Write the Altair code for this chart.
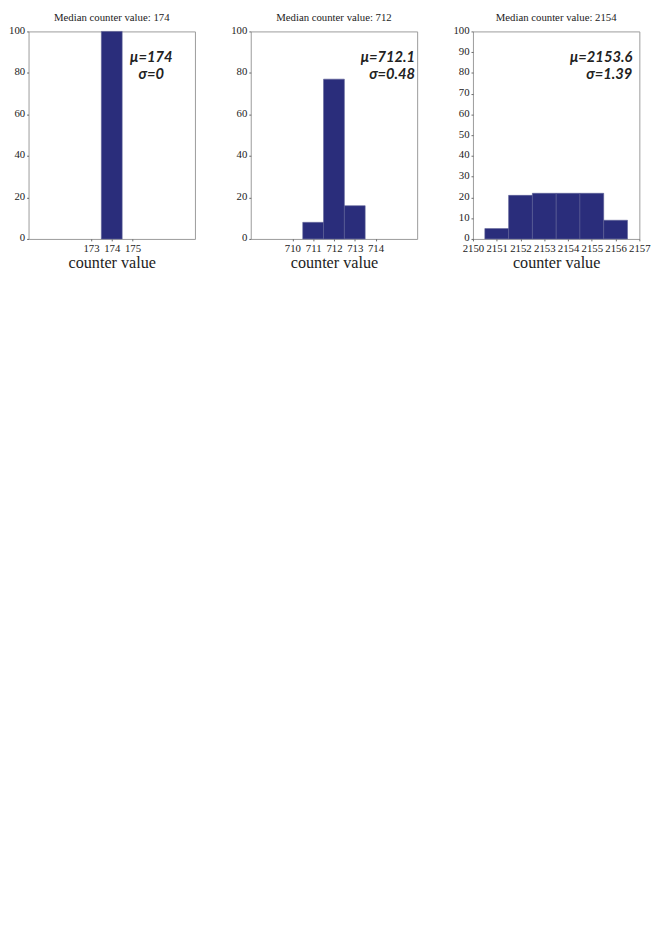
import altair as alt
import pandas as pd

titles = ["Median counter value: 174", "Median counter value: 712", "Median counter value: 2154"]
centers = [[174], [711, 712, 713], [2151, 2152, 2153, 2154, 2155, 2156]]
percents = [[100], [8, 77, 16], [5, 21, 22, 22, 22, 9]]
x_domains = [[170, 178], [708, 716], [2150, 2157]]
x_ticks = [[173, 174, 175], [710, 711, 712, 713, 714],
           [2150, 2151, 2152, 2153, 2154, 2155, 2156, 2157]]
y_ticks = [[0, 20, 40, 60, 80, 100], [0, 20, 40, 60, 80, 100],
           [0, 10, 20, 30, 40, 50, 60, 70, 80, 90, 100]]
mu_labels = ["μ=174", "μ=712.1", "μ=2153.6"]
sigma_labels = ["σ=0", "σ=0.48", "σ=1.39"]
label_x = [175.9, 715.9, 2156.7]
label_align = ["center", "right", "right"]
mu_y = 87.7
sigma_y = 79.2

BAR = "#2a2d7b"
SERIF = "Liberation Serif"


def panel(i):
    df = pd.DataFrame({"c": centers[i], "p": percents[i]})
    xs = alt.Scale(domain=x_domains[i], nice=False, zero=False)
    ys = alt.Scale(domain=[0, 100], nice=False)
    x_axis = alt.Axis(values=x_ticks[i], title="counter value", format="d",
                      labelOverlap=False, labelFlush=False,
                      labelPadding=2, titlePadding=1)
    y_axis = alt.Axis(values=y_ticks[i], title="", format="d", labelPadding=2,
                      labelOffset=-1)
    bars = (
        alt.Chart(df)
        .transform_calculate(lo="datum.c - 0.5", hi="datum.c + 0.5")
        .mark_bar(color=BAR, stroke="#5a5e95", strokeWidth=0.6)
        .encode(
            x=alt.X("lo:Q", scale=xs, axis=x_axis),
            x2="hi:Q",
            y=alt.Y("p:Q", scale=ys, axis=y_axis),
            y2=alt.datum(0),
        )
    )
    ann = pd.DataFrame({"x": [label_x[i], label_x[i]], "y": [mu_y, sigma_y],
                        "t": [mu_labels[i], sigma_labels[i]]})
    text = (
        alt.Chart(ann)
        .mark_text(font="Lato", fontStyle="italic", fontWeight="bold", fontSize=15,
                   align=label_align[i], baseline="middle", color="#222222")
        .encode(x=alt.X("x:Q", scale=xs, axis=x_axis),
                y=alt.Y("y:Q", scale=ys, axis=y_axis),
                text="t:N")
    )
    return alt.layer(bars, text).properties(
        width=170, height=212, title=alt.TitleParams(titles[i])
    )


chart = (
    alt.hconcat(panel(0), panel(1), panel(2), spacing=57, bounds="flush")
    .properties(padding={"left": 0, "top": 0, "right": 5, "bottom": 5})
    .configure_view(stroke="#9a9a9a", strokeWidth=1)
    .configure_axis(labelFont=SERIF, labelFontSize=11, labelColor="#222222",
                    titleFont=SERIF, titleFontSize=16.5, titleFontWeight="normal",
                    titleColor="#222222", domain=False, grid=False,
                    tickColor="#444444", tickSize=2, tickWidth=0.8)
    .configure_title(font=SERIF, fontSize=11, fontWeight="normal", color="#222222",
                     offset=2, anchor="middle")
)

chart.save("out.html", embed_options={"renderer": "svg", "actions": False})
